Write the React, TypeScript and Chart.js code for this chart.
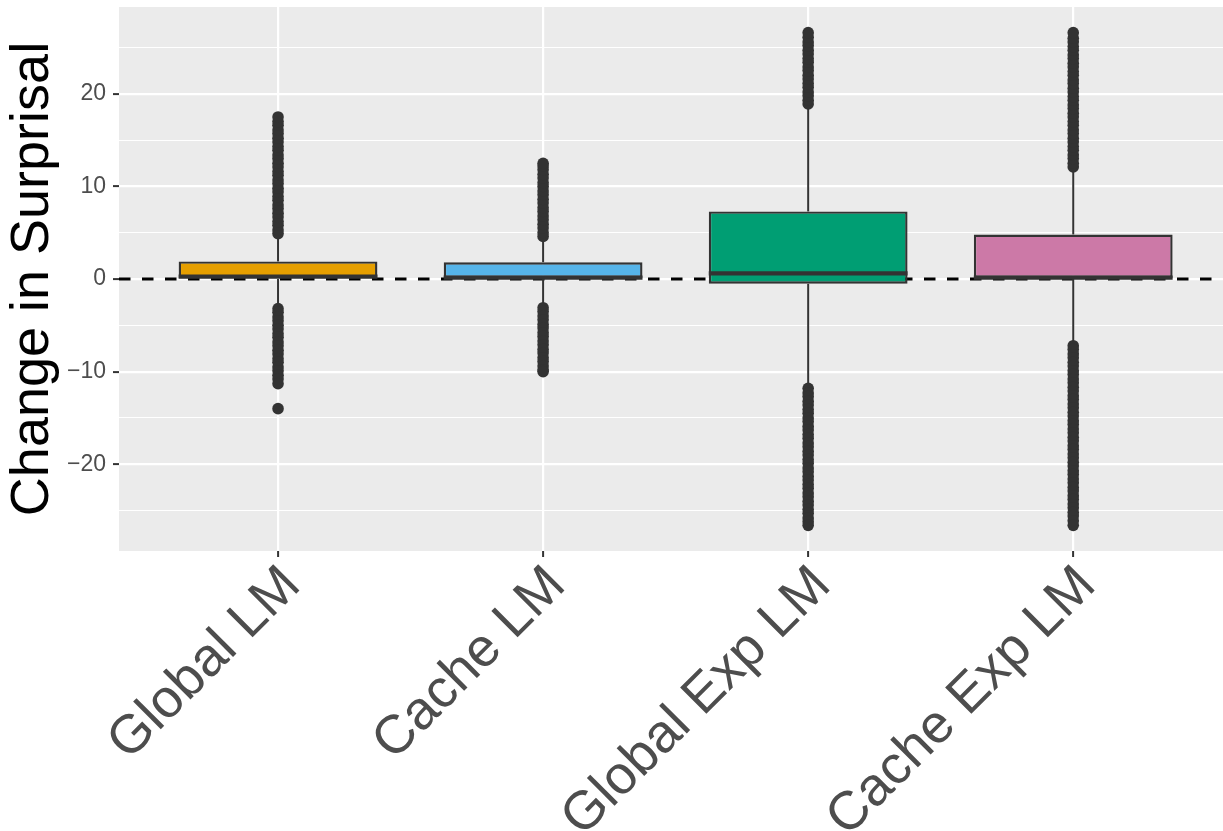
import React, { useEffect, useRef } from 'react';
import { Chart, registerables } from 'chart.js';

Chart.register(...registerables);

// ---------- data ----------
const categories = ['Global LM', 'Cache LM', 'Global Exp LM', 'Cache Exp LM'];
const boxColors = ['#E69F00', '#56B4E9', '#009E73', '#CC79A7'];

const lowerWhisker = [-2.9, -2.8, -11.5, -6.9];
const q1 = [0.0, 0.0, -0.5, 0.0];
const median = [0.25, 0.15, 0.6, 0.15];
const q3 = [1.9, 1.8, 7.3, 4.8];
const upperWhisker = [4.6, 4.3, 18.6, 11.8];

const outliersGlobalLM = [
  4.9, 5.3, 5.8, 6.2, 6.7, 7.1, 7.6, 8.0, 8.5, 8.9, 9.4, 9.8, 10.3, 10.7, 11.2, 11.6,
  12.1, 12.5, 13.0, 13.4, 13.9, 14.3, 14.8, 15.2, 15.7, 16.1, 16.6, 17.0, 17.5,
  -3.2, -3.6, -4.1, -4.5, -5.0, -5.4, -5.9, -6.3, -6.8, -7.2, -7.7, -8.1, -8.6, -9.0,
  -9.5, -9.9, -10.4, -10.8, -11.3, -14.0,
];
const outliersCacheLM = [
  4.6, 5.0, 5.5, 5.9, 6.4, 6.8, 7.3, 7.7, 8.2, 8.6, 9.1, 9.5, 10.0, 10.4, 10.9, 11.3,
  11.8, 12.2, 12.5,
  -3.1, -3.5, -4.0, -4.4, -4.9, -5.3, -5.8, -6.2, -6.7, -7.1, -7.6, -8.0, -8.5, -8.9,
  -9.4, -9.8, -10.0,
];
const outliersGlobalExpLM = [
  18.9, 19.3, 19.8, 20.2, 20.7, 21.1, 21.6, 22.0, 22.5, 22.9, 23.4, 23.8, 24.3, 24.7,
  25.2, 25.6, 26.1, 26.6,
  -11.8, -12.3, -12.7, -13.2, -13.6, -14.1, -14.5, -15.0, -15.4, -15.9, -16.3, -16.8,
  -17.2, -17.7, -18.1, -18.6, -19.0, -19.5, -19.9, -20.4, -20.8, -21.3, -21.7, -22.2,
  -22.6, -23.1, -23.5, -24.0, -24.4, -24.9, -25.3, -25.8, -26.2, -26.6,
];
const outliersCacheExpLM = [
  12.1, 12.5, 13.0, 13.4, 13.9, 14.3, 14.8, 15.2, 15.7, 16.1, 16.6, 17.0, 17.5, 17.9,
  18.4, 18.8, 19.3, 19.7, 20.2, 20.6, 21.1, 21.5, 22.0, 22.4, 22.9, 23.3, 23.8, 24.2,
  24.7, 25.1, 25.6, 26.0, 26.6,
  -7.2, -7.6, -8.1, -8.5, -9.0, -9.4, -9.9, -10.3, -10.8, -11.2, -11.7, -12.1, -12.6,
  -13.0, -13.5, -13.9, -14.4, -14.8, -15.3, -15.7, -16.2, -16.6, -17.1, -17.5, -18.0,
  -18.4, -18.9, -19.3, -19.8, -20.2, -20.7, -21.1, -21.6, -22.0, -22.5, -22.9, -23.4,
  -23.8, -24.3, -24.7, -25.2, -25.6, -26.1, -26.6,
];
const outliers = [outliersGlobalLM, outliersCacheLM, outliersGlobalExpLM, outliersCacheExpLM];

const yTickValues = [-25, -20, -15, -10, -5, 0, 5, 10, 15, 20, 25];
const yLabeledTicks = [-20, -10, 0, 10, 20];
const yLimits = [-29.37, 29.37];
const xLimits = [0.4, 4.565];
const referenceLine = 0;
const yTitle = 'Change in Surprisal';

// ---------- styling ----------
const FONT = "'Liberation Sans', Arial, Helvetica, sans-serif";
const PANEL_BG = '#EBEBEB';
const DARK = '#333333';

const boxplotPlugin = {
  id: 'boxplotParts',
  beforeDraw(chart: any) {
    const { ctx, chartArea } = chart;
    ctx.save();
    ctx.fillStyle = PANEL_BG;
    ctx.fillRect(chartArea.left, chartArea.top, chartArea.right - chartArea.left, chartArea.bottom - chartArea.top);
    ctx.restore();
  },
  beforeDatasetsDraw(chart: any) {
    const { ctx, chartArea, scales } = chart;
    const xs = scales.x;
    const ys = scales.y;
    ctx.save();
    // dashed reference line
    const y0 = ys.getPixelForValue(referenceLine);
    ctx.strokeStyle = '#000000';
    ctx.lineWidth = 2.8;
    ctx.setLineDash([11.5, 11.5]);
    ctx.beginPath();
    ctx.moveTo(chartArea.left, y0);
    ctx.lineTo(chartArea.right, y0);
    ctx.stroke();
    ctx.setLineDash([]);
    // whiskers
    ctx.strokeStyle = DARK;
    ctx.lineWidth = 2;
    categories.forEach((_, i) => {
      const x = xs.getPixelForValue(i + 1);
      ctx.beginPath();
      ctx.moveTo(x, ys.getPixelForValue(lowerWhisker[i]));
      ctx.lineTo(x, ys.getPixelForValue(q1[i]));
      ctx.moveTo(x, ys.getPixelForValue(q3[i]));
      ctx.lineTo(x, ys.getPixelForValue(upperWhisker[i]));
      ctx.stroke();
    });
    ctx.restore();
  },
  afterDatasetsDraw(chart: any) {
    const { ctx, scales } = chart;
    const ys = scales.y;
    const meta = chart.getDatasetMeta(0);
    ctx.save();
    ctx.strokeStyle = DARK;
    ctx.lineWidth = 4.2;
    categories.forEach((_, i) => {
      const el = meta.data[i];
      const y = ys.getPixelForValue(median[i]);
      ctx.beginPath();
      ctx.moveTo(el.x - el.width / 2, y);
      ctx.lineTo(el.x + el.width / 2, y);
      ctx.stroke();
    });
    ctx.restore();
  },
};

export default function App() {
  const ref = useRef<HTMLCanvasElement>(null);

  useEffect(() => {
    const boxData = categories.map((_, i) => ({ x: i + 1, y: [q1[i], q3[i]] }));
    const outlierData: { x: number; y: number }[] = [];
    outliers.forEach((list, i) => list.forEach((v) => outlierData.push({ x: i + 1, y: v })));

    const chart = new Chart(ref.current as HTMLCanvasElement, {
      type: 'scatter',
      data: {
        datasets: [
          {
            type: 'bar',
            label: 'box',
            data: boxData as any,
            backgroundColor: boxColors,
            borderColor: DARK,
            borderWidth: 2.4,
            borderSkipped: false,
            barPercentage: 0.75,
            categoryPercentage: 1,
            order: 2,
          } as any,
          {
            type: 'scatter',
            label: 'outliers',
            data: outlierData,
            backgroundColor: DARK,
            borderWidth: 0,
            pointRadius: 5.8,
            pointHoverRadius: 5.8,
            order: 1,
          },
        ],
      },
      options: {
        responsive: false,
        devicePixelRatio: 1,
        animation: false,
        events: [],
        layout: { autoPadding: false, padding: { top: 7, right: 0, bottom: 0, left: 0 } },
        plugins: {
          legend: { display: false },
          tooltip: { enabled: false },
        },
        scales: {
          x: {
            type: 'linear',
            min: xLimits[0],
            max: xLimits[1],
            offset: false,
            border: { display: false },
            grid: {
              offset: false,
              color: '#FFFFFF',
              lineWidth: 2.2,
              tickColor: DARK,
              tickWidth: 2,
              tickLength: 6,
            },
            afterBuildTicks: (scale: any) => {
              scale.ticks = categories.map((_, i) => ({ value: i + 1 }));
            },
            afterFit: (scale: any) => {
              scale.height = 280;
              scale.paddingLeft = 0;
              scale.paddingRight = 0;
              scale.paddingTop = 0;
              scale.paddingBottom = 0;
            },
            ticks: {
              autoSkip: false,
              minRotation: 45,
              maxRotation: 45,
              padding: -3,
              labelOffset: 14,
              color: '#4D4D4D',
              font: { family: FONT, size: 54 },
              callback: (value: any) => categories[Math.round(Number(value)) - 1] ?? '',
            },
          },
          y: {
            type: 'linear',
            min: yLimits[0],
            max: yLimits[1],
            border: { display: false },
            grid: {
              color: '#FFFFFF',
              lineWidth: (c: any) => (c.tick && yLabeledTicks.includes(c.tick.value) ? 2.2 : 1.1),
              tickColor: (c: any) => (c.tick && yLabeledTicks.includes(c.tick.value) ? DARK : 'rgba(0,0,0,0)'),
              tickWidth: 2,
              tickLength: 6,
            },
            afterBuildTicks: (scale: any) => {
              scale.ticks = yTickValues.map((v) => ({ value: v }));
            },
            afterFit: (scale: any) => {
              scale.width = 119;
              scale.paddingTop = 0;
              scale.paddingBottom = 0;
              scale.paddingLeft = 0;
              scale.paddingRight = 0;
            },
            ticks: {
              padding: 7,
              color: '#4D4D4D',
              font: { family: FONT, size: 23 },
              callback: (value: any) => {
                const v = Number(value);
                if (!yLabeledTicks.includes(v)) return '';
                return v < 0 ? '\u2212' + Math.abs(v) : String(v);
              },
            },
            title: {
              display: true,
              text: yTitle,
              color: '#000000',
              font: { family: FONT, size: 54 },
              padding: { top: 1, bottom: 0 },
            },
          },
        },
      },
      plugins: [boxplotPlugin],
    } as any);

    return () => chart.destroy();
  }, []);

  return (
    <div style={{ position: 'absolute', left: 0, top: 0, width: 1223, height: 831, background: '#FFFFFF' }}>
      <canvas ref={ref} width={1223} height={831} style={{ width: 1223, height: 831, display: 'block' }} />
    </div>
  );
}
